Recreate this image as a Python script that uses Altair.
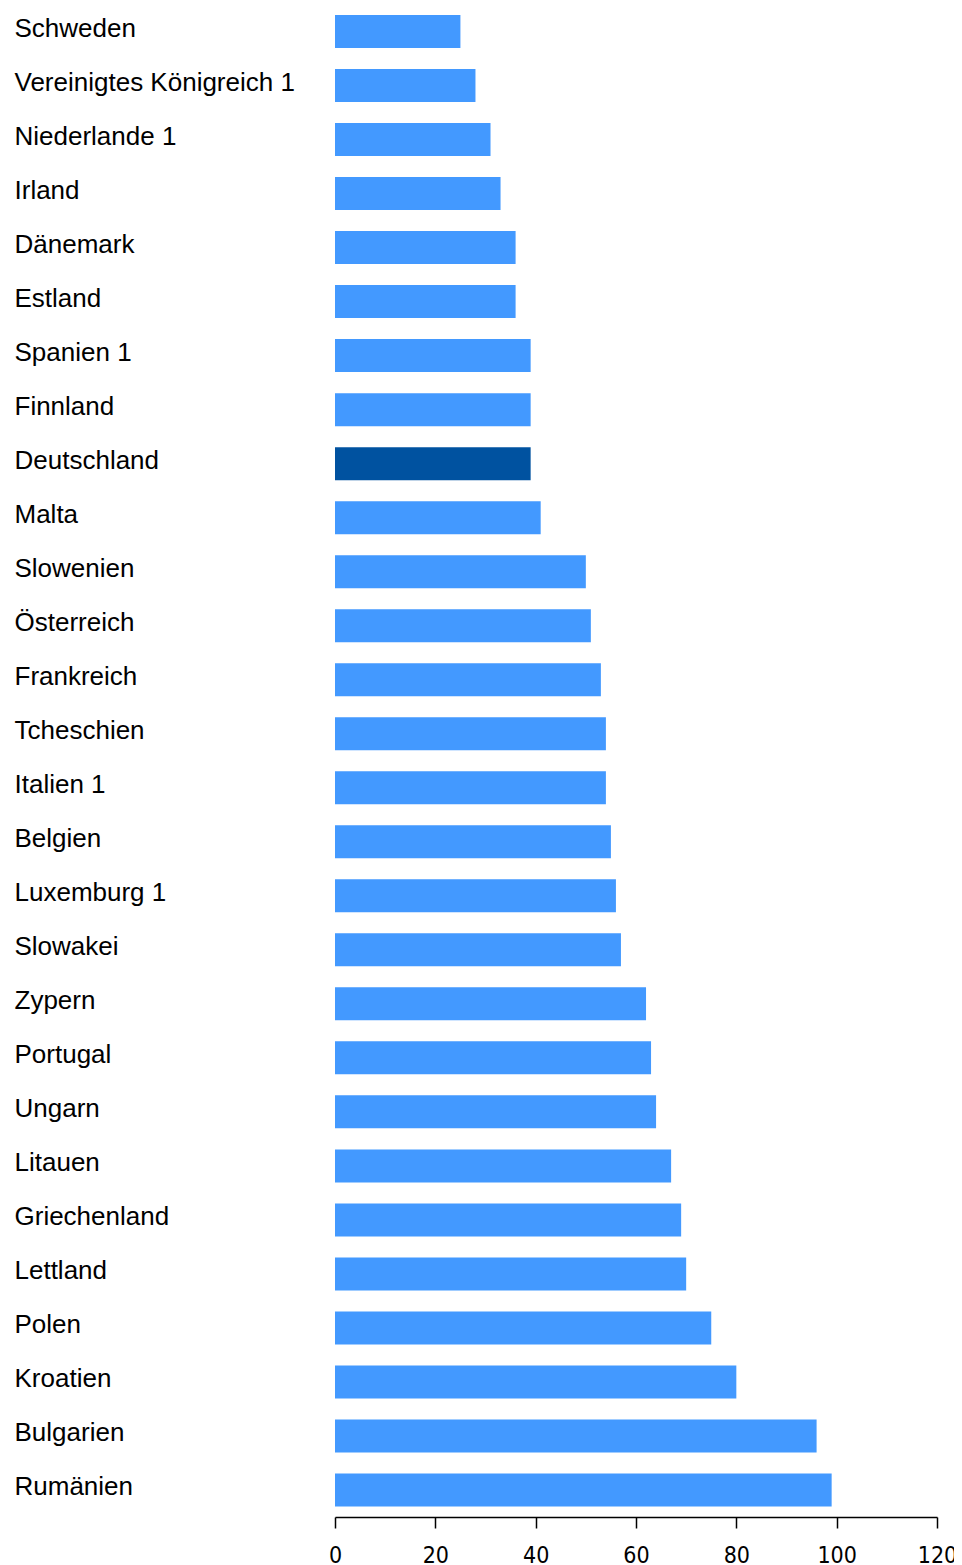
import altair as alt
import pandas as pd

countries = ["Schweden", "Vereinigtes Königreich 1", "Niederlande 1", "Irland", "Dänemark",
             "Estland", "Spanien 1", "Finnland", "Deutschland", "Malta", "Slowenien",
             "Österreich", "Frankreich", "Tcheschien", "Italien 1", "Belgien", "Luxemburg 1",
             "Slowakei", "Zypern", "Portugal", "Ungarn", "Litauen", "Griechenland",
             "Lettland", "Polen", "Kroatien", "Bulgarien", "Rumänien"]
values = [25, 28, 31, 33, 36, 36, 39, 39, 39, 41, 50, 51, 53, 54, 54, 55, 56, 57,
          62, 63, 64, 67, 69, 70, 75, 80, 96, 99]
highlight = ["Deutschland"]
x_ticks = [0, 20, 40, 60, 80, 100, 120]

df = pd.DataFrame({"land": countries, "wert": values})
df["hl"] = df["land"].isin(highlight).map({True: "ja", False: "nein"})

chart = alt.Chart(df).mark_bar().encode(
    y=alt.Y("land:N", sort=countries, title=None,
            scale=alt.Scale(paddingInner=0.389, paddingOuter=0.162, align=0.4),
            axis=alt.Axis(domain=False, ticks=False, tickSize=0, labelAlign="left",
                          labelPadding=321, labelFont="Liberation Sans", labelFontSize=26,
                          labelColor="#000000", labelBaseline="alphabetic", labelOffset=5,
                          labelLimit=0)),
    x=alt.X("wert:Q", title=None,
            scale=alt.Scale(domain=[0, 120], nice=False),
            axis=alt.Axis(values=x_ticks, grid=False, domainColor="#000000", domainWidth=1.5,
                          tickColor="#000000", tickWidth=1.5, tickSize=11, labelPadding=34,
                          labelFont="DejaVu Sans Condensed, Liberation Sans", labelFontSize=23,
                          labelBaseline="alphabetic",
                          labelColor="#000000", labelFlush=False)),
    color=alt.Color("hl:N", legend=None,
                    scale=alt.Scale(domain=["nein", "ja"], range=["#4399FF", "#0052A0"])),
).properties(
    width=602, height=1509,
    autosize=alt.AutoSizeParams(type="none"),
    padding={"left": 327, "top": 0, "right": 17, "bottom": 48},
).configure(background="#ffffff").configure_view(stroke=None, strokeWidth=0)

chart.save("out.html", embed_options={"renderer": "svg", "actions": False})
